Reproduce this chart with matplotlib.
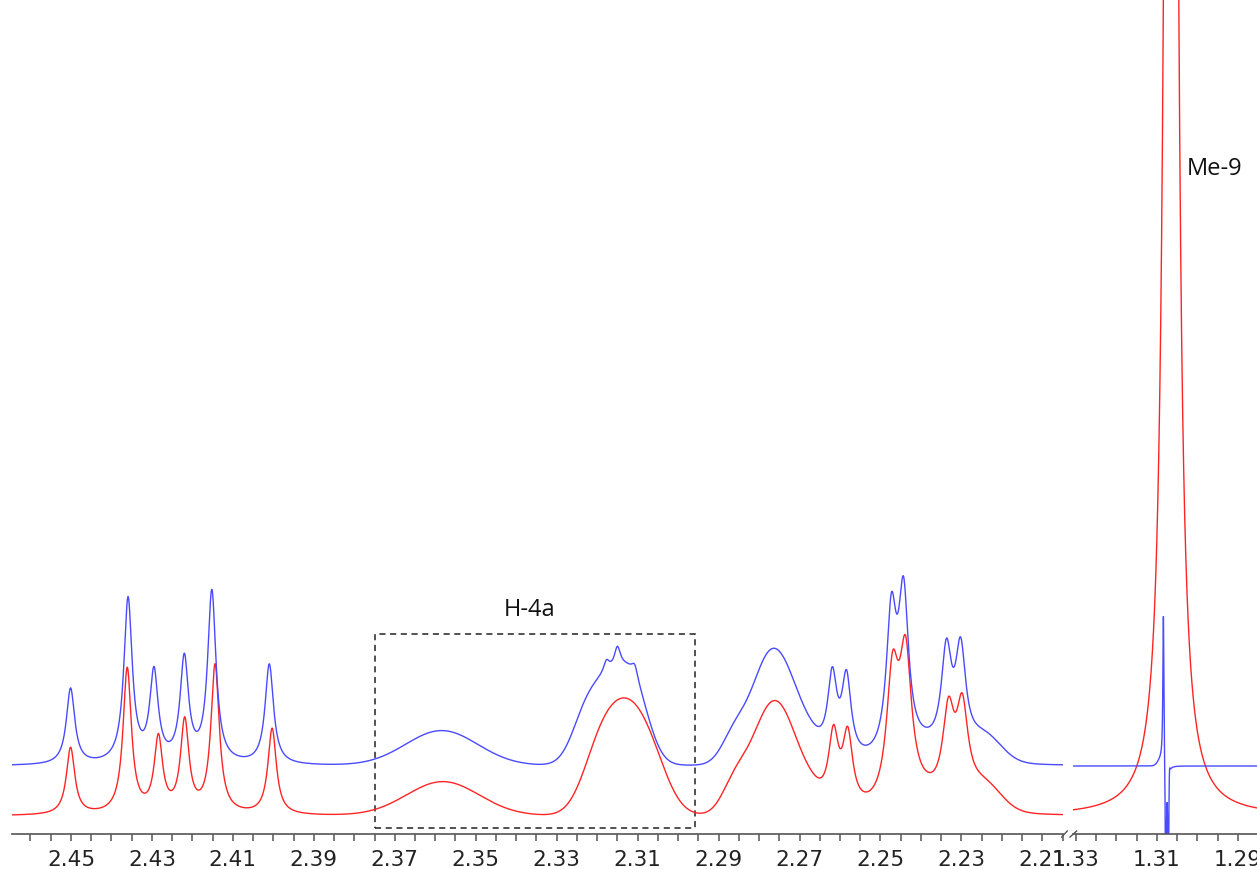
import numpy as np
import matplotlib.pyplot as plt
from matplotlib.ticker import MultipleLocator
from matplotlib.lines import Line2D
from matplotlib.patches import Rectangle

# peak lists (ppm, height above baseline, width in ppm)
red_base = 18
red_lor_ppm = [2.4501, 2.4361, 2.4284, 2.4219, 2.4144, 2.4003,
               2.2616, 2.2581, 2.2470, 2.2438, 2.2332, 2.2298, 1.3065]
red_lor_h = [67, 145, 74, 91, 148, 86, 72, 72, 125, 139, 87, 89, 4480]
red_lor_w = [0.0025, 0.0025, 0.0025, 0.0025, 0.0025, 0.0025,
             0.003, 0.003, 0.0036, 0.0036, 0.0035, 0.0035, 0.0018]
red_gau_ppm = [2.3581, 2.3199, 2.3128, 2.3060, 2.2860, 2.2790, 2.2735, 2.2670, 2.2391, 2.2243]
red_gau_h = [34, 40, 100, 28, 30, 70, 72, 15, 12, 25]
red_gau_w = [0.0212, 0.0099, 0.0130, 0.0100, 0.0074, 0.0095, 0.0095, 0.0074, 0.01, 0.0099]

blue_base = 68
blue_lor_ppm = [2.4501, 2.4359, 2.4295, 2.4220, 2.4152, 2.4010,
                2.2619, 2.2584, 2.2473, 2.2443, 2.2337, 2.2302,
                2.3177, 2.3150, 2.3107,
                1.3084, 1.3078, 1.3072, 1.3069]
blue_lor_h = [76, 164, 89, 103, 171, 100,
              80, 80, 137, 152, 99, 99,
              12, 20, 12,
              150, -240, -200, 15]
blue_lor_w = [0.0025, 0.0025, 0.0025, 0.0025, 0.0025, 0.0025,
              0.0028, 0.0028, 0.003, 0.003, 0.0031, 0.0031,
              0.0018, 0.0018, 0.0018,
              0.0003, 0.0002, 0.0002, 0.0003]
blue_gau_ppm = [2.3584, 2.3235, 2.3177, 2.3107, 2.2860, 2.2790, 2.2735, 2.2670, 2.2391, 2.2243, 1.3088]
blue_gau_h = [35, 22, 78, 60, 30, 72, 75, 15, 12, 25, 8]
blue_gau_w = [0.021, 0.0075, 0.0115, 0.0086, 0.0074, 0.0090, 0.0095, 0.0074, 0.01, 0.0099, 0.002]

left_ticks = [2.45, 2.43, 2.41, 2.39, 2.37, 2.35, 2.33, 2.31, 2.29, 2.27, 2.25, 2.23, 2.21]
right_ticks = [1.33, 1.31, 1.29]


def spectrum(ppm, base, lp, lh, lw, gp, gh, gw):
    y = np.full_like(ppm, base, dtype=float)
    for p, h, w in zip(lp, lh, lw):
        g = w / 2
        y += h * g**2 / ((ppm - p)**2 + g**2)
    for p, h, w in zip(gp, gh, gw):
        y += h * np.exp(-4 * np.log(2) * ((ppm - p) / w)**2)
    return y


xl = np.linspace(2.4646, 2.2050, 8000)
xr = np.linspace(1.3307, 1.2853, 9000)

fig = plt.figure(figsize=(12.57, 8.70), dpi=100)
axL = fig.add_axes([12/1257, 35/870, (1063-12)/1257, 835/870])
axR = fig.add_axes([1073/1257, 35/870, (1257-1073)/1257, 835/870])

red = '#ff2424'
blue = '#4a4aff'
for ax, x in ((axL, xl), (axR, xr)):
    ax.plot(x, spectrum(x, red_base, red_lor_ppm, red_lor_h, red_lor_w,
                        red_gau_ppm, red_gau_h, red_gau_w), color=red, lw=1.0)
    ax.plot(x, spectrum(x, blue_base, blue_lor_ppm, blue_lor_h, blue_lor_w,
                        blue_gau_ppm, blue_gau_h, blue_gau_w), color=blue, lw=1.0)
    ax.set_ylim(0, 835)
    ax.set_yticks([])
    for s in ('left', 'right', 'top'):
        ax.spines[s].set_visible(False)
    ax.spines['bottom'].set_color('#555555')
    ax.spines['bottom'].set_linewidth(1.2)
    ax.xaxis.set_minor_locator(MultipleLocator(0.005))
    ax.tick_params(axis='x', which='both', direction='out', length=5, width=1.1,
                   color='#555555', labelsize=15.5, labelcolor='#222222', pad=6)
    ax.patch.set_alpha(0)

axL.set_xlim(2.46457, 2.2049)
axR.set_xlim(1.3307, 1.2853)
axL.set_xticks(left_ticks)
axL.set_xticklabels([f'{t:.2f}' for t in left_ticks])
axR.set_xticks(right_ticks)
axR.set_xticklabels([f'{t:.2f}' for t in right_ticks])
for lab in axR.get_xticklabels():
    lab.set_clip_on(False)

# dashed box around H-4a
axL.add_patch(Rectangle((2.3749, 6), 2.2959 - 2.3749, 194, fill=False,
                        ec='#222222', lw=1.1, ls=(0, (4, 3))))
axL.text(2.3367, 225, 'H-4a', ha='center', va='center', fontsize=17,
         family='Open Sans', color='#111111')
axR.text(1.2957, 666, 'Me-9', ha='center', va='center', fontsize=17,
         family='Open Sans', color='#111111', clip_on=False)

# axis break marks
for x0, x1 in ((1061.7, 1067.3), (1070.0, 1076.7)):
    fig.add_artist(Line2D([x0/1257, x1/1257], [(870-838)/870, (870-832)/870],
                          color='#555555', lw=1.0))

fig.savefig('out.png', dpi=100)
